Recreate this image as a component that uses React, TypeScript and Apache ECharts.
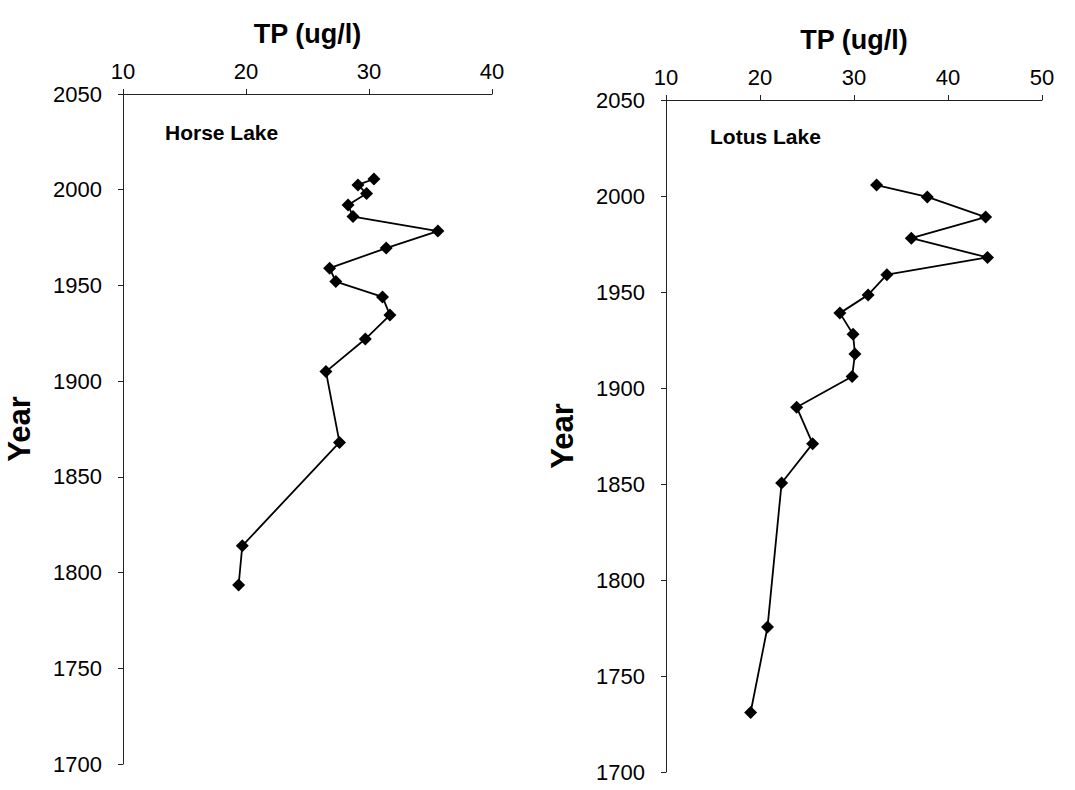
import React, { useEffect, useRef } from "react";
import * as echarts from "echarts";

const horseTP = [30.4, 29.1, 29.8, 28.3, 28.7, 35.6, 31.4, 26.8, 27.3, 31.1, 31.7, 29.7, 26.5, 27.6, 19.7, 19.4];
const horseYear = [2005.6, 2002.5, 1998, 1992, 1986, 1978.4, 1969.5, 1959, 1952, 1944, 1934.5, 1922, 1905, 1868, 1814, 1793.5];

const lotusTP = [32.4, 37.8, 44.0, 36.1, 44.2, 33.5, 31.5, 28.5, 29.9, 30.1, 29.8, 23.9, 25.6, 22.3, 20.8, 19.0];
const lotusYear = [2005.7, 1999.5, 1989, 1978, 1968, 1959, 1948.5, 1939, 1928, 1917.7, 1906, 1890, 1871, 1850.5, 1775.5, 1731];

const panelTitles = ["Horse Lake", "Lotus Lake"];
const xAxisTitle = "TP (ug/l)";
const yAxisTitle = "Year";
const horseXRange = [10, 40];
const lotusXRange = [10, 50];
const yearRange = [1700, 2050];

export default function App() {
  const ref = useRef<HTMLDivElement>(null);
  useEffect(() => {
    if (!ref.current) return;
    const chart = echarts.init(ref.current, undefined, { renderer: "svg" });
    const font = "'Liberation Sans', Arial, sans-serif";
    const axisLine = { show: true, lineStyle: { color: "#222", width: 1 } };
    const axisTick = { show: true, inside: false, length: 5, lineStyle: { color: "#222", width: 1 } };
    const plain = (v: number) => String(v);
    const xAxisCommon = (gridIndex: number, range: number[]) => ({
      type: "value",
      gridIndex,
      position: "top",
      min: range[0],
      max: range[1],
      interval: 10,
      name: xAxisTitle,
      nameLocation: "middle",
      nameGap: 47,
      nameTextStyle: { fontFamily: font, fontSize: 27, fontWeight: "bold", color: "#000" },
      axisLine,
      axisTick,
      splitLine: { show: false },
      axisLabel: { fontFamily: font, fontSize: 22, color: "#000", margin: 12, formatter: plain },
    });
    const yAxisCommon = (gridIndex: number) => ({
      type: "value",
      gridIndex,
      min: yearRange[0],
      max: yearRange[1],
      interval: 50,
      name: yAxisTitle,
      nameLocation: "middle",
      nameGap: 88,
      nameTextStyle: { fontFamily: font, fontSize: 31, fontWeight: "bold", color: "#000" },
      axisLine,
      axisTick,
      splitLine: { show: false },
      axisLabel: { fontFamily: font, fontSize: 22, color: "#000", margin: 21, formatter: plain },
    });
    const seriesCommon = {
      type: "line",
      symbol: "diamond",
      symbolSize: 13,
      lineStyle: { color: "#000", width: 1.8 },
      itemStyle: { color: "#000" },
    };
    chart.setOption({
      animation: false,
      backgroundColor: "#fff",
      title: [
        { text: panelTitles[0], left: 160, top: 117, textStyle: { fontFamily: font, fontSize: 21, fontWeight: "bold", color: "#000" } },
        { text: panelTitles[1], left: 705, top: 121, textStyle: { fontFamily: font, fontSize: 21, fontWeight: "bold", color: "#000" } },
      ],
      grid: [
        { left: 123, top: 94, width: 369, height: 670 },
        { left: 666, top: 100, width: 376, height: 672 },
      ],
      xAxis: [xAxisCommon(0, horseXRange), xAxisCommon(1, lotusXRange)],
      yAxis: [yAxisCommon(0), yAxisCommon(1)],
      series: [
        { ...seriesCommon, xAxisIndex: 0, yAxisIndex: 0, data: horseTP.map((v, i) => [v, horseYear[i]]) },
        { ...seriesCommon, xAxisIndex: 1, yAxisIndex: 1, data: lotusTP.map((v, i) => [v, lotusYear[i]]) },
      ],
    });
    return () => chart.dispose();
  }, []);
  return <div ref={ref} style={{ position: "fixed", left: 0, top: 0, width: 1075, height: 790 }} />;
}
